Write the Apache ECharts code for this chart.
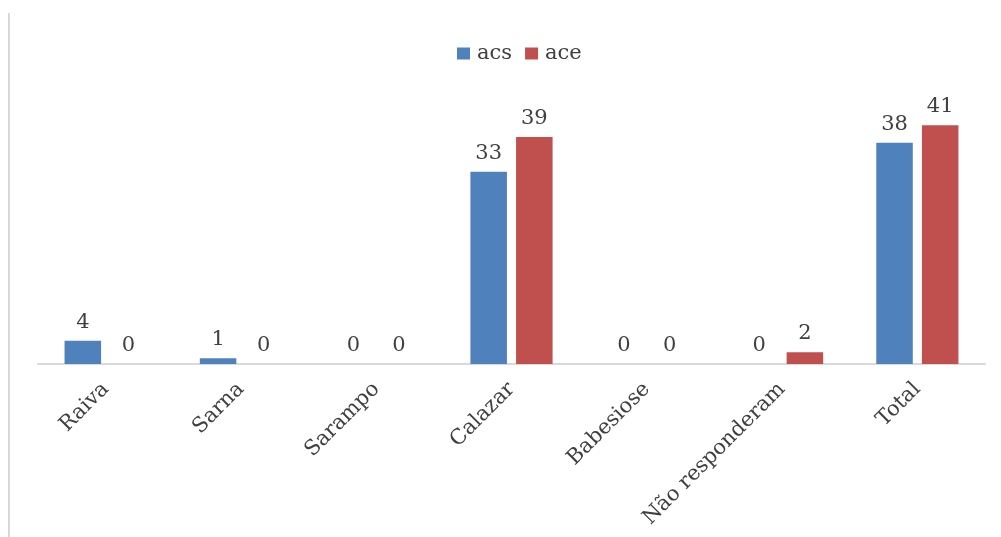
<!DOCTYPE html>
<html>
<head>
<meta charset="utf-8">
<script src="https://cdn.jsdelivr.net/npm/echarts@6/dist/echarts.min.js"></script>
<style>
  html, body { margin: 0; padding: 0; background: #ffffff; }
  #chart { width: 1001px; height: 537px; }
</style>
</head>
<body>
<div id="chart"></div>
<script>
// Doenças citadas por agentes (acs / ace)
const categories = ['Raiva', 'Sarna', 'Sarampo', 'Calazar', 'Babesiose', 'Não responderam', 'Total'];
const acsValues = [4, 1, 0, 33, 0, 0, 38];
const aceValues = [0, 0, 0, 39, 0, 2, 41];
const seriesNames = ['acs', 'ace'];

const FONT = "'DejaVu Serif', 'Liberation Serif', serif";
const TEXT_COLOR = '#404040';
const FONT_SIZE = 21;

const chart = echarts.init(document.getElementById('chart'), null, { renderer: 'canvas' });

const labelStyle = {
  show: true,
  position: 'top',
  distance: 8,
  fontFamily: FONT,
  fontSize: FONT_SIZE,
  color: TEXT_COLOR
};

const legendText = {
  fontFamily: FONT,
  fontSize: FONT_SIZE,
  color: TEXT_COLOR,
  rich: {
    t: { fontFamily: FONT, fontSize: FONT_SIZE, color: TEXT_COLOR, padding: [0, 0, 0, 2] }
  }
};

chart.setOption({
  animation: false,
  backgroundColor: '#ffffff',
  textStyle: { fontFamily: FONT, color: TEXT_COLOR },
  graphic: [{
    type: 'line',
    shape: { x1: 9, y1: 13, x2: 9, y2: 537 },
    style: { stroke: '#d9d9d9', lineWidth: 2 }
  }],
  legend: {
    data: seriesNames,
    formatter: '{t|{name}}',
    top: 38,
    left: 452,
    itemWidth: 13,
    itemHeight: 12,
    itemGap: 13,
    icon: 'rect',
    textStyle: legendText
  },
  grid: { left: 38, right: 16, top: 102, bottom: 173, containLabel: false },
  xAxis: {
    type: 'category',
    data: categories,
    axisLine: { show: true, lineStyle: { color: '#d9d9d9', width: 2 } },
    axisTick: { show: false },
    axisLabel: {
      rotate: 45,
      interval: 0,
      margin: 22,
      fontFamily: FONT,
      fontSize: FONT_SIZE,
      color: TEXT_COLOR
    }
  },
  yAxis: {
    type: 'value',
    min: 0,
    max: 45,
    show: false,
    splitLine: { show: false }
  },
  series: [
    {
      name: seriesNames[0],
      type: 'bar',
      data: acsValues,
      barWidth: '27%',
      barGap: '25%',
      itemStyle: { color: '#4f81bd' },
      label: labelStyle
    },
    {
      name: seriesNames[1],
      type: 'bar',
      data: aceValues,
      barWidth: '27%',
      itemStyle: { color: '#c0504d' },
      label: labelStyle
    }
  ]
});
</script>
</body>
</html>
